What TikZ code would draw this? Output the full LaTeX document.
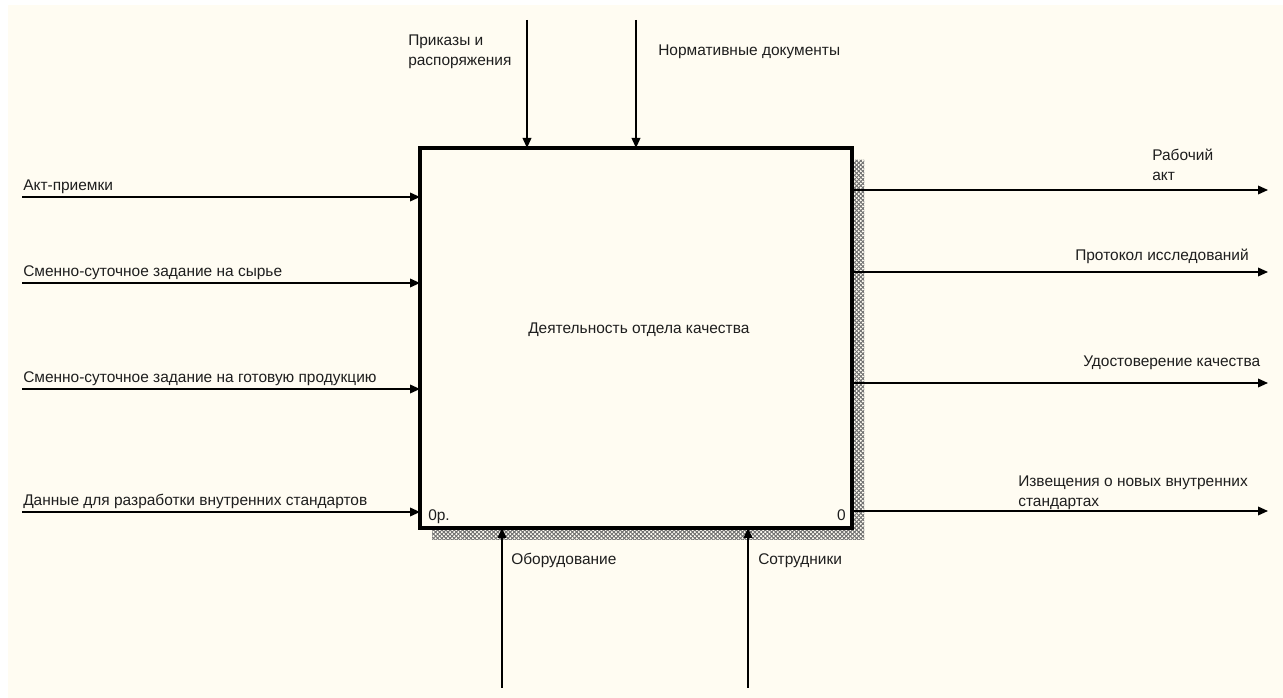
\documentclass[tikz,border=0pt]{standalone}
\usepackage{fontspec}
\setmainfont{Liberation Sans}
\usetikzlibrary{arrows.meta,patterns.meta}

\definecolor{paper}{RGB}{255,252,242}
\definecolor{ink}{RGB}{30,30,30}

\def\funcBoxWidth{324pt}
\def\funcBoxHeight{285pt}
\def\shadowOffset{9pt}

\tikzset{
  funcbox/.style = {draw, line width = 2.3pt, minimum width = \funcBoxWidth,
    minimum height = \funcBoxHeight, inner sep = 0pt, outer sep = 0pt},
  flow/.style = {line width = 1.1pt, -{Triangle[length = 7.5pt, width = 6.5pt]}},
  lbl/.style = {font = \fontsize{11.6}{15}\selectfont, text = ink,
    inner sep = 0pt, align = left},
  shadowhatch/.style = {pattern = {Hatch[angle = #1, distance = 2.2pt, line width = 0.5pt]},
    pattern color = black!55}
}

\begin{document}
\begin{tikzpicture}[x = 0.75pt, y = -0.75pt]
  \useasboundingbox (0,0) rectangle (1283,698);
  \fill [white] (0,0) rectangle (1283,698);
  \fill [paper] (8,5) rectangle (1283,698);

  %% function box
  \node [funcbox] (box) at (636,338) {};
  \foreach \hatchAngle in {45,-45}
  \path [shadowhatch = \hatchAngle]
  ([yshift = -\shadowOffset]box.north east)
  rectangle ([shift = {(\shadowOffset,-\shadowOffset)}]box.south east)
  ([xshift = \shadowOffset]box.south west)
  rectangle ([shift = {(\shadowOffset,-\shadowOffset)}]box.south east)
  ;
  \node [funcbox] at (box) {};
  \node [lbl, anchor = base west] (title) at (528,334) {Деятельность отдела качества};
  \node [lbl, anchor = base west] (cost) at (428,521) {0р.};
  \node [lbl, anchor = base east] (num) at (846,521) {0};

  %% inputs
  \coordinate (inAkt) at (22,197);
  \coordinate (inRaw) at (22,283);
  \coordinate (inProd) at (22,389);
  \coordinate (inData) at (22,512);
  \draw [flow] (inAkt) -- (inAkt -| box.west);
  \draw [flow] (inRaw) -- (inRaw -| box.west);
  \draw [flow] (inProd) -- (inProd -| box.west);
  \draw [flow] (inData) -- (inData -| box.west);
  \node [lbl, anchor = base west] (lAkt) at (23,191) {Акт-приемки};
  \node [lbl, anchor = base west] (lRaw) at (23,277) {Сменно-суточное задание на сырье};
  \node [lbl, anchor = base west] (lProd) at (23,383) {Сменно-суточное задание на готовую продукцию};
  \node [lbl, anchor = base west] (lData) at (23,506) {Данные для разработки внутренних стандартов};

  %% controls
  \coordinate (ctlOrders) at (527,20);
  \coordinate (ctlNorms) at (636,20);
  \draw [flow] (ctlOrders) -- (ctlOrders |- box.north);
  \draw [flow] (ctlNorms) -- (ctlNorms |- box.north);
  \node [lbl, anchor = base west] (lOrders) at (408,66) {Приказы и\\распоряжения};
  \node [lbl, anchor = base west] (lNorms) at (658,56) {Нормативные документы};

  %% outputs
  \coordinate (outAct) at (1268,190);
  \coordinate (outProto) at (1268,272);
  \coordinate (outCert) at (1268,383);
  \coordinate (outNote) at (1268,511);
  \draw [flow] (outAct -| box.east) -- (outAct);
  \draw [flow] (outProto -| box.east) -- (outProto);
  \draw [flow] (outCert -| box.east) -- (outCert);
  \draw [flow] (outNote -| box.east) -- (outNote);
  \node [lbl, anchor = base west] (lAct) at (1152,181) {Рабочий\\акт};
  \node [lbl, anchor = base west] (lProto) at (1075,261) {Протокол исследований};
  \node [lbl, anchor = base west] (lCert) at (1083,367) {Удостоверение качества};
  \node [lbl, anchor = base west] (lNote) at (1018,507) {Извещения о новых внутренних\\стандартах};

  %% mechanisms
  \coordinate (mechEquip) at (502,688);
  \coordinate (mechStaff) at (748,688);
  \draw [flow] (mechEquip) -- (mechEquip |- box.south);
  \draw [flow] (mechStaff) -- (mechStaff |- box.south);
  \node [lbl, anchor = base west] (lEquip) at (511,565) {Оборудование};
  \node [lbl, anchor = base west] (lStaff) at (758,565) {Сотрудники};
\end{tikzpicture}
\end{document}
